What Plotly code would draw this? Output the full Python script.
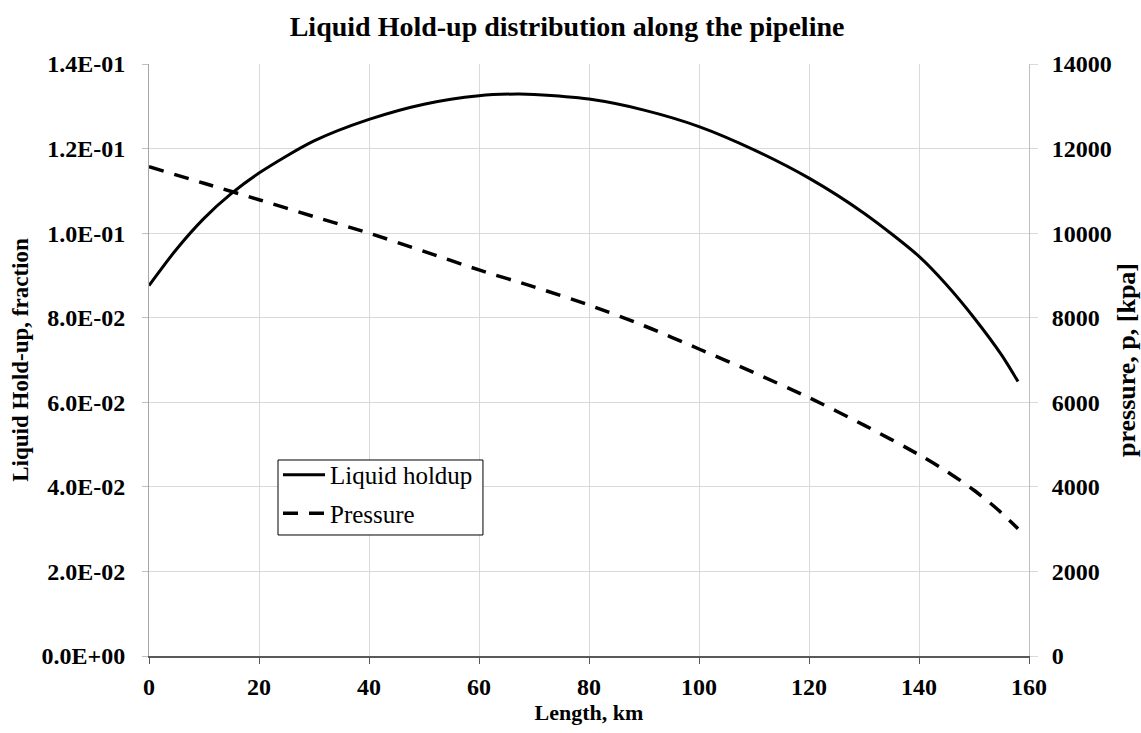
import plotly.graph_objects as go

# Distance along the pipeline, km
length_km = [0, 5, 10, 15, 20, 30, 40, 50, 60, 67, 70, 80, 90, 100, 110, 120,
             130, 140, 145, 150, 155, 158]
# Liquid hold-up, fraction
holdup = [0.0876, 0.0962, 0.1035, 0.1094, 0.1142, 0.1218, 0.1269, 0.1305, 0.1325,
          0.1329, 0.1328, 0.1317, 0.1291, 0.1252, 0.1197, 0.1130, 0.1047, 0.0945,
          0.0878, 0.0800, 0.0712, 0.0649]

# Pressure profile, kPa
pressure_km = [0, 10, 20, 30, 40, 50, 60, 70, 80, 90, 100, 110, 120, 130, 140, 145,
               150, 154, 158]
pressure = [11570, 11180, 10790, 10390, 10000, 9570, 9130, 8730, 8300, 7810, 7260,
            6700, 6110, 5460, 4760, 4370, 3920, 3500, 3010]

x_ticks = [0, 20, 40, 60, 80, 100, 120, 140, 160]
holdup_ticks = [0.0, 0.02, 0.04, 0.06, 0.08, 0.10, 0.12, 0.14]
holdup_tick_labels = ["0.0E+00", "2.0E-02", "4.0E-02", "6.0E-02", "8.0E-02",
                      "1.0E-01", "1.2E-01", "1.4E-01"]
pressure_ticks = [0, 2000, 4000, 6000, 8000, 10000, 12000, 14000]

FONT = "Liberation Serif"
GRID = "#d9d9d9"
TICK_FONT = dict(size=24, family=FONT, weight="bold", color="black")


def title_font(size):
    return dict(size=size, family=FONT, weight="bold", color="black")


fig = go.Figure()
fig.add_trace(go.Scatter(
    x=length_km, y=holdup, name="Liquid holdup", mode="lines",
    line=dict(color="black", width=3, shape="spline", smoothing=0.8),
    legendgroup="a", yaxis="y",
))
fig.add_trace(go.Scatter(
    x=pressure_km, y=pressure, name="Pressure", mode="lines",
    line=dict(color="black", width=3.5, dash="15px,11px", shape="spline", smoothing=0.8),
    legendgroup="b", yaxis="y2",
))

# framed white box behind the legend entries
fig.add_shape(
    type="rect", xref="paper", yref="paper",
    x0=0.1466, x1=0.3795, y0=0.2044, y1=0.3311,
    line=dict(color="black", width=1), fillcolor="white", layer="above",
)

fig.update_layout(
    width=1141, height=733,
    margin=dict(l=149, r=112, t=64, b=77),
    paper_bgcolor="white", plot_bgcolor="white",
    font=dict(family=FONT, color="black"),
    title=dict(
        text="Liquid Hold-up distribution along the pipeline",
        x=0.497, xanchor="center", y=0.9645, yanchor="middle",
        font=title_font(28),
    ),
    xaxis=dict(
        range=[0, 160], tickvals=x_ticks, showgrid=True, gridcolor=GRID, gridwidth=1,
        showline=True, linecolor="#595959", linewidth=1.5,
        ticks="outside", ticklen=6, tickcolor="#595959",
        tickfont=TICK_FONT, ticklabelstandoff=2,
        title=dict(text="Length, km", font=title_font(22), standoff=2),
        zeroline=False, automargin=False,
    ),
    yaxis=dict(
        range=[0, 0.14], tickvals=holdup_ticks, ticktext=holdup_tick_labels,
        showgrid=True, gridcolor=GRID, gridwidth=1,
        showline=True, linecolor="#a6a6a6", linewidth=1,
        ticks="outside", ticklen=6, tickcolor="#bfbfbf",
        tickfont=TICK_FONT, ticklabelstandoff=12,
        title=dict(text="Liquid Hold-up, fraction", font=title_font(23), standoff=6),
        zeroline=False, automargin=False,
    ),
    yaxis2=dict(
        range=[0, 14000], tickvals=pressure_ticks, tickformat="d",
        overlaying="y", side="right",
        showgrid=False, showline=True, linecolor="#bfbfbf", linewidth=1,
        ticks="outside", ticklen=8, tickcolor="#d9d9d9",
        tickfont=TICK_FONT, ticklabelstandoff=9,
        title=dict(text="pressure, p, [kpa]", font=title_font(26), standoff=6),
        zeroline=False, automargin=False,
    ),
    legend=dict(
        x=0.1466, y=0.3446, xanchor="left", yanchor="top",
        bgcolor="rgba(0,0,0,0)", borderwidth=0,
        font=dict(size=25, family=FONT, color="black"), tracegroupgap=3,
        traceorder="grouped", itemwidth=42,
    ),
    showlegend=True,
)

fig.write_html("out.html")
